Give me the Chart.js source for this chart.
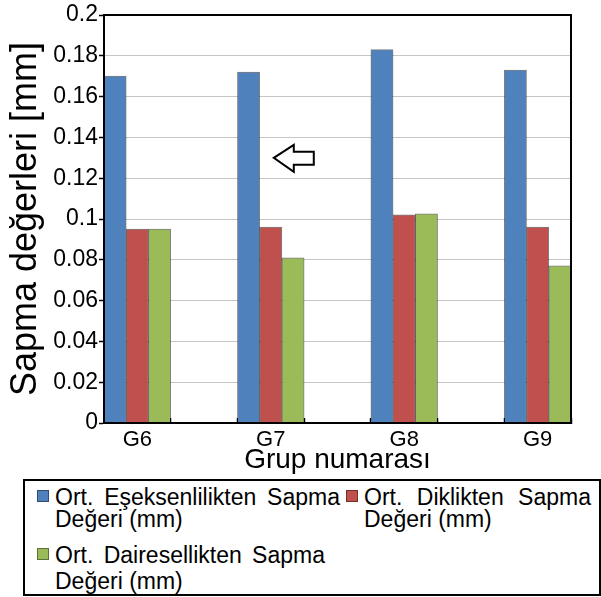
<!DOCTYPE html>
<html>
<head>
<meta charset="utf-8">
<script src="https://cdn.jsdelivr.net/npm/chart.js@4.4.1/dist/chart.umd.min.js"></script>
<style>
  body { margin: 0; background: #fff; }
  #wrap { position: relative; width: 601px; height: 597px; font-family: "Liberation Sans", Arial, sans-serif; }
  #c { position: absolute; left: 0; top: 0; }
  #legend { position: absolute; left: 23px; top: 479px; width: 578px; height: 117px; border: 2px solid #000; box-sizing: border-box; }
  .item { position: absolute; font-size: 23px; line-height: 24px; color: #000; white-space: nowrap; }
  .item .sw { position: absolute; left: -18px; top: 5px; width: 10px; height: 10px; border: 1px solid rgba(0,0,0,0.4); }
  .item .l1 { text-align: justify; text-align-last: justify; }
</style>
</head>
<body>
<div id="wrap">
  <canvas id="c" width="601" height="478"></canvas>
  <div id="legend"></div>
</div>
<script>
const categories = ['G6', 'G7', 'G8', 'G9'];
const seriesLabels = [
  ['Ort. Eşeksenlilikten Sapma', 'Değeri (mm)'],
  ['Ort. Diklikten Sapma', 'Değeri (mm)'],
  ['Ort. Dairesellikten Sapma', 'Değeri (mm)']
];
const esEksenlilik = [0.170, 0.172, 0.183, 0.173];
const diklik = [0.095, 0.096, 0.102, 0.096];
const dairesellik = [0.095, 0.081, 0.1025, 0.077];
const yTickLabels = ['0', '0.02', '0.04', '0.06', '0.08', '0.1', '0.12', '0.14', '0.16', '0.18', '0.2'];
const colors = ['#4F81BD', '#C0504D', '#9BBB59'];

// arrow annotation (pointing at the G7 bar)
const arrowNote = { slot: 2, value: 0.13 };

const FONT = '"Liberation Sans", Arial, sans-serif';
Chart.defaults.font.family = FONT;
Chart.defaults.color = '#000';

// empty slot between groups, like the excel gap
const slotLabels = [];
categories.forEach((c, i) => { if (i) slotLabels.push(''); slotLabels.push(c); });
const toSlots = (vals) => {
  const out = [];
  vals.forEach((v, i) => { if (i) out.push(null); out.push(v); });
  return out;
};

const series = [esEksenlilik, diklik, dairesellik];

const framePlugin = {
  id: 'frame',
  afterDraw(chart) {
    const { ctx, chartArea: a } = chart;
    ctx.save();
    ctx.strokeStyle = '#000';
    ctx.lineWidth = 2;
    ctx.beginPath();
    ctx.moveTo(a.left, a.top);
    ctx.lineTo(a.right, a.top);
    ctx.lineTo(a.right, a.bottom);
    ctx.stroke();
    ctx.restore();
  }
};

const arrowPlugin = {
  id: 'arrow',
  afterDatasetsDraw(chart) {
    const ctx = chart.ctx;
    const x0 = chart.scales.x.getPixelForValue(arrowNote.slot) + 3;
    const y0 = chart.scales.y.getPixelForValue(arrowNote.value);
    ctx.save();
    ctx.beginPath();
    ctx.moveTo(x0, y0);
    ctx.lineTo(x0 + 20, y0 - 13);
    ctx.lineTo(x0 + 20, y0 - 6);
    ctx.lineTo(x0 + 40, y0 - 6);
    ctx.lineTo(x0 + 40, y0 + 7);
    ctx.lineTo(x0 + 20, y0 + 7);
    ctx.lineTo(x0 + 20, y0 + 14);
    ctx.closePath();
    ctx.fillStyle = '#fff';
    ctx.fill();
    ctx.strokeStyle = '#000';
    ctx.lineWidth = 2;
    ctx.stroke();
    ctx.restore();
  }
};

new Chart(document.getElementById('c'), {
  type: 'bar',
  data: {
    labels: slotLabels,
    datasets: series.map((vals, i) => ({
      label: seriesLabels[i].join(' '),
      data: toSlots(vals),
      backgroundColor: colors[i],
      borderColor: 'rgba(0,0,0,0.5)',
      borderWidth: 1,
      barPercentage: 1,
      categoryPercentage: 1
    }))
  },
  options: {
    responsive: false,
    animation: false,
    layout: { padding: { top: 15, right: 30, left: 0, bottom: 0 } },
    plugins: { legend: { display: false }, tooltip: { enabled: false } },
    scales: {
      x: {
        grid: { display: true, drawOnChartArea: false, drawTicks: true, tickLength: -5, tickColor: '#000', tickWidth: 1.5, offset: true },
        border: { color: '#000', width: 2, z: 1 },
        ticks: { color: '#000', font: { size: 22 }, padding: 9, autoSkip: false, maxRotation: 0 },
        title: { display: true, text: 'Grup numarası', color: '#000', font: { size: 28 }, padding: { top: 0, bottom: 1 } },
        afterFit: (s) => { s.height = 55; }
      },
      y: {
        min: 0,
        max: 0.2,
        ticks: { stepSize: 0.02, color: '#000', font: { size: 23 }, padding: 1, callback: (v, i) => yTickLabels[i] },
        grid: { color: '#c6c6c6', lineWidth: 1, tickColor: '#000', tickLength: 5, tickWidth: 1.5 },
        border: { color: '#000', width: 2, z: 1 },
        title: { display: true, text: 'Sapma değerleri [mm]', color: '#000', font: { size: 36 }, padding: { top: 4, bottom: 0 } },
        afterFit: (s) => { s.width = 104; }
      }
    }
  },
  plugins: [framePlugin, arrowPlugin]
});

// legend box
const legendPos = [
  { left: 30, top: 4, width: 285, gap: 22 },
  { left: 339, top: 4, width: 227, gap: 22 },
  { left: 30, top: 62, width: 270, gap: 26 }
];
const legend = document.getElementById('legend');
seriesLabels.forEach((lines, i) => {
  const p = legendPos[i];
  const item = document.createElement('div');
  item.className = 'item';
  item.style.left = p.left + 'px';
  item.style.top = p.top + 'px';
  const sw = document.createElement('span');
  sw.className = 'sw';
  sw.style.background = colors[i];
  item.appendChild(sw);
  const l1 = document.createElement('div');
  l1.className = 'l1';
  l1.style.width = p.width + 'px';
  l1.textContent = lines[0];
  item.appendChild(l1);
  const l2 = document.createElement('div');
  l2.style.marginTop = (p.gap - 24) + 'px';
  l2.textContent = lines[1];
  item.appendChild(l2);
  legend.appendChild(item);
});
</script>
</body>
</html>
